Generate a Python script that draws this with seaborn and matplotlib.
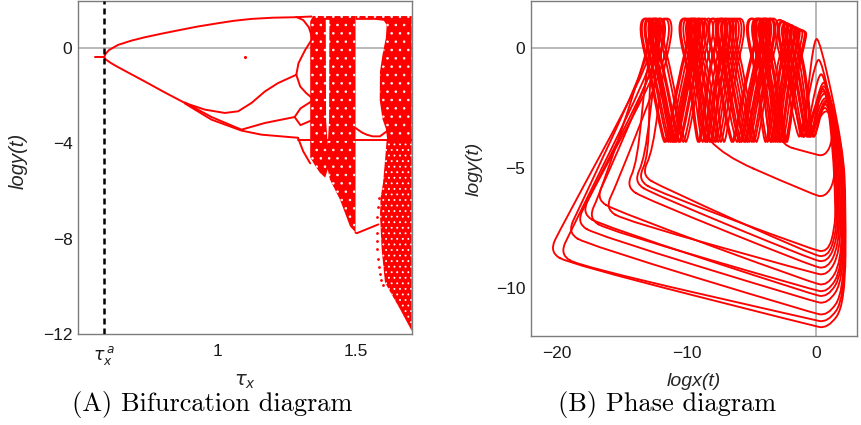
import numpy as np
import pandas as pd
import matplotlib
matplotlib.use("Agg")
import matplotlib.pyplot as plt
from matplotlib.path import Path
from matplotlib.patches import PathPatch
import seaborn as sns

sns.set_theme(style="white")
plt.rcParams["font.family"] = ["Liberation Sans", "DejaVu Sans"]
plt.rcParams["mathtext.fontset"] = "dejavusans"
plt.rcParams["hatch.linewidth"] = 0.6

RED = "#ff0000"
FRAME = "#7c7c7c"
GRID = "#a6a6a6"

# ======================= (A) bifurcation diagram data =======================
tau_a = 0.594
xA_ticks = [tau_a, 1.0, 1.5]
xA_ticklabels = [r"$\tau_x^{\,a}$", "1", "1.5"]
yA_ticks = [-12, -8, -4, 0]
yA_ticklabels = ["\u221212", "\u22128", "\u22124", "0"]

# periodic branches
stub_x = [0.562, 0.594]
stub_y = [-0.40, -0.40]
upper_x = [0.594, 0.600, 0.612, 0.644, 0.692, 0.74, 0.80, 0.86, 0.93, 1.004, 1.06, 1.124, 1.20, 1.28, 1.34]
upper_y = [-0.40, -0.25, -0.10, 0.11, 0.29, 0.43, 0.58, 0.72, 0.88, 1.02, 1.12, 1.20, 1.25, 1.27, 1.30]
upsplit_x = [1.285, 1.31, 1.33, 1.34]
upsplit_y = [1.28, 1.15, 0.85, 0.50]
trunk_x = [0.594, 0.600, 0.62, 0.644, 0.692, 0.74, 0.812, 0.884]
trunk_y = [-0.40, -0.50, -0.66, -0.82, -1.12, -1.42, -1.88, -2.32]
l1_x = [0.884, 0.956, 1.028, 1.076, 1.124, 1.172, 1.219, 1.285]
l1_y = [-2.32, -2.60, -2.74, -2.67, -2.32, -1.84, -1.49, -1.14]
l1up_x = [1.285, 1.293, 1.317, 1.34]
l1up_y = [-1.14, -0.65, -0.10, 0.32]
l1dn_x = [1.285, 1.299, 1.32, 1.34]
l1dn_y = [-1.14, -1.63, -1.90, -2.10]
l2a_x = [0.884, 0.98, 1.088, 1.16, 1.291]
l2a_y = [-2.34, -3.02, -3.48, -3.65, -3.78]
l2b_x = [0.884, 0.98, 1.088, 1.172, 1.279]
l2b_y = [-2.30, -2.91, -3.44, -3.16, -2.91]
l2bup_x = [1.279, 1.30, 1.34]
l2bup_y = [-2.91, -2.55, -2.25]
l2bdn_x = [1.279, 1.30, 1.34]
l2bdn_y = [-2.91, -3.25, -3.05]
l2adn_x = [1.291, 1.31, 1.335]
l2adn_y = [-3.78, -4.35, -4.85]
hline_x = [1.291, 1.70]
hline_y = [-3.86, -3.86]
winU_x = [1.498, 1.52, 1.538, 1.56, 1.586, 1.61]
winU_y = [-3.37, -3.55, -3.65, -3.72, -3.72, -3.51]
winL_x = [1.498, 1.502, 1.54, 1.58]
winL_y = [-7.75, -7.78, -7.60, -7.41]

# chaotic bands (outlines)
bandA_x = [1.335, 1.345, 1.498, 1.498, 1.478, 1.442, 1.406, 1.398, 1.389, 1.370, 1.350, 1.335]
bandA_y = [1.10, 1.32, 1.32, -7.75, -7.49, -6.37, -5.53, -5.10, -5.45, -5.25, -4.90, -4.60]
gapA_x = [1.391, 1.404, 1.403, 1.398, 1.392]
gapA_y = [1.16, 1.16, -3.0, -4.1, -3.0]
bandB_x = [1.498, 1.70, 1.70, 1.612, 1.607, 1.595, 1.585, 1.586, 1.595, 1.607, 1.610, 1.600, 1.570, 1.498]
bandB_y = [1.32, 1.32, -3.86, -3.86, -3.40, -3.00, -2.20, -1.00, -0.30, 0.40, 0.95, 1.12, 1.16, 1.16]
bandBl_x = [1.610, 1.70, 1.70, 1.658, 1.604, 1.592, 1.586, 1.588, 1.597, 1.605]
bandBl_y = [-3.86, -3.86, -11.87, -10.96, -9.85, -8.45, -7.06, -6.30, -5.66, -4.60]
dots_x = [1.581, 1.578, 1.576, 1.574, 1.575, 1.577, 1.580, 1.583, 1.587, 1.591, 1.596]
dots_y = [-6.30, -6.70, -7.10, -7.76, -8.10, -8.45, -8.87, -9.20, -9.50, -9.75, -9.95]
stray_x = [1.10]
stray_y = [-0.40]

# ======================= (B) phase diagram data =======================
xB_ticks = [-20, -10, 0]
xB_ticklabels = ["\u221220", "\u221210", "0"]
yB_ticks = [-10, -5, 0]
yB_ticklabels = ["\u221210", "\u22125", "0"]

cyc_corner_x = [-20.4, -19.6, -19.0, -18.3, -17.9, -17.4, -16.8, -16.1, -14.5, -13.9, -13.3, -13.6]
cyc_corner_y = [-8.4, -8.5, -7.6, -7.2, -6.8, -7.0, -6.2, -6.6, -5.7, -5.5, -5.2, -5.4]
cyc_bottom_y = [-11.6, -11.35, -11.07, -10.58, -10.3, -10.1, -9.82, -9.4, -9.12, -8.85, -8.64, -8.43]
cyc_right_x = [2.25, 2.2, 2.15, 2.1, 2.05, 2.0, 1.95, 1.85, 1.75, 1.65, 1.55, 1.45]
cyc_hump_x = [0.05, 0.6, 0.65, 0.7, 0.5, 0.2, 0.7, 0.6, 0.4, 0.7, 0.75, 0.55]
cyc_hump_y = [0.27, -1.55, -2.0, -2.45, -1.8, -0.6, -2.2, -1.7, -1.2, -2.6, -2.3, -1.9]
cyc_lobes = [
    [-12.9, -9.9, -7.6, -4.6, -2.3],
    [-12.6, -9.6, -7.2, -4.3, -2.0],
    [-13.1, -10.1, -7.9, -4.9, -2.6],
    [-12.3, -9.3, -6.9, -4.0, -1.7],
    [-12.0, -9.0, -6.5, -3.8, -1.4],
    [-13.2, -10.2, -8.0, -5.0, -2.8],
    [-12.4, -9.4, -7.0, -4.1, -1.9],
    [-11.7, -8.8, -6.3, -3.6, -1.2],
    [-12.8, -9.7, -7.4, -4.4, -2.2],
    [-12.1, -9.1, -6.7, -3.9, -1.6],
    [-11.5, -8.6, -6.1, -3.5, -1.1],
    [-12.5, -9.5, -7.3, -4.5, -2.5],
]
short_lobes = [[-8.3, -5.9, -3.3, -1.2], [-2.0]]
short_start_x = [-9.4, -3.3]
short_bottom_y = [-6.15, -4.45]
short_right_x = [1.45, 1.3]
short_hump_x = [0.85, 0.75]
short_hump_y = [-2.35, -2.75]
lobe_top_x = [-14.0, -3.0, -0.5]
lobe_top_y = [1.22, 1.22, 0.55]
trough_y = -3.92


# ----------------------------- helpers ------------------------------------
def smooth_closed(ctrl):
    P = np.asarray(ctrl, float)
    M = (P + np.roll(P, -1, axis=0)) / 2
    verts = [M[-1]]
    codes = [Path.MOVETO]
    for i in range(len(P)):
        verts += [P[i], M[i]]
        codes += [Path.CURVE3, Path.CURVE3]
    return Path(verts, codes)


def lobe_pts(c):
    top = float(np.interp(c, lobe_top_x, lobe_top_y))
    w = 0.32
    return [(c + w + 0.05, -1.1), (c - w - 0.05, 0.45), (c - w, top), (c + w, top),
            (c + w + 0.05, 0.45), (c - w - 0.05, -1.1)]


def trough_pts(t, y=trough_y):
    return [(t + 0.14, y), (t - 0.14, y)]


def top_passage(lobes, hx, hy):
    L = sorted(lobes, reverse=True)
    pts = [(hx + 0.25, hy + 0.1), (hx - 0.25, hy + 0.1)]
    pts += trough_pts((L[0] + hx) / 2, -3.7)
    for i, c in enumerate(L):
        pts += lobe_pts(c)
        if i + 1 < len(L):
            pts += trough_pts((c + L[i + 1]) / 2)
    return pts


def big_cycle(bx, by, br, rx, hx, hy, lobes):
    pts = [(bx + 1.4, by - 0.6), (-0.4, br + 0.05), (0.9, br - 0.1),
           (rx, br + 0.9), (rx + 0.05, -6.5), (rx - 0.15, -4.2)]
    pts += top_passage(lobes, hx, hy)
    pts += [(bx + 0.7, by + 0.9), (bx - 0.2, by - 0.1)]
    return pts


def short_cycle(st, sb, rx, hx, hy, lobes):
    pts = [(-0.3, sb + 0.05), (0.7, sb - 0.08), (rx, sb + 0.6), (rx - 0.05, sb + 1.8)]
    pts += top_passage(lobes, hx, hy)
    pts += [(st, trough_y - 0.03)]
    return pts


def style_axes(ax):
    for sp in ax.spines.values():
        sp.set_color(FRAME)
        sp.set_linewidth(1.0)
        sp.set_visible(True)
    ax.tick_params(axis="both", direction="in", length=3.5, width=0.8, color=FRAME,
                   labelsize=12.5, labelcolor="#1a1a1a")
    ax.tick_params(axis="x", pad=7)
    ax.tick_params(axis="y", pad=4)
    ax.grid(False)
    ax.set_facecolor("white")


# ------------------------------ figure -------------------------------------
fig = plt.figure(figsize=(8.61, 4.25), dpi=100)
axA = fig.add_axes([78 / 861, 1 - 334 / 425, 333.7 / 861, 333 / 425])
axB = fig.add_axes([530.7 / 861, 1 - 336 / 425, 326 / 861, 335 / 425])

# ---------- panel A ----------
axA.axhline(0, color=GRID, lw=1.1, zorder=1)
axA.fill(bandA_x, bandA_y, facecolor=RED, edgecolor="white", hatch="..", lw=0, zorder=2)
axA.fill(gapA_x, gapA_y, facecolor="white", edgecolor="none", lw=0, zorder=2.2)
axA.fill(bandB_x, bandB_y, facecolor=RED, edgecolor="white", hatch="..", lw=0, zorder=2)
axA.fill(bandBl_x, bandBl_y, facecolor=RED, edgecolor="white", hatch="...", lw=0, zorder=2)

branches = {
    "stub": (stub_x, stub_y), "upper": (upper_x, upper_y), "upsplit": (upsplit_x, upsplit_y),
    "trunk": (trunk_x, trunk_y), "l1": (l1_x, l1_y), "l1up": (l1up_x, l1up_y),
    "l1dn": (l1dn_x, l1dn_y), "l2a": (l2a_x, l2a_y), "l2b": (l2b_x, l2b_y),
    "l2bup": (l2bup_x, l2bup_y), "l2bdn": (l2bdn_x, l2bdn_y), "l2adn": (l2adn_x, l2adn_y),
    "hline": (hline_x, hline_y), "winU": (winU_x, winU_y), "winL": (winL_x, winL_y),
}
rows = []
for name, (bx_, by_) in branches.items():
    for i, (xx, yy) in enumerate(zip(bx_, by_)):
        rows.append({"branch": name, "order": i, "x": xx, "y": yy})
dfA = pd.DataFrame(rows)
sns.lineplot(data=dfA, x="x", y="y", units="branch", estimator=None, sort=False,
             color=RED, lw=1.4, ax=axA, legend=False, zorder=3)
sns.scatterplot(x=dots_x, y=dots_y, color=RED, s=4, linewidth=0, ax=axA, zorder=3)
sns.scatterplot(x=stray_x, y=stray_y, color=RED, s=5, linewidth=0, ax=axA, zorder=3)
axA.axvline(tau_a, color="black", lw=1.8, ls=(0, (2.4, 1.6)), zorder=5)

axA.set_xlim(0.5, 1.70)
axA.set_ylim(-12, 1.95)
style_axes(axA)
axA.set_xticks(xA_ticks)
axA.set_xticklabels(xA_ticklabels)
axA.set_yticks(yA_ticks)
axA.set_yticklabels(yA_ticklabels)
axA.set_xlabel(r"$\tau_x$", fontsize=14)
axA.xaxis.set_label_coords(0.5, -0.115)
axA.set_ylabel("logy(t)", fontsize=14.5, style="italic")
axA.yaxis.set_label_coords(-0.152, 0.52)

# ---------- panel B ----------
axB.axhline(0, color=GRID, lw=1.1, zorder=1)
axB.axvline(0, color=GRID, lw=1.1, zorder=1)
for k in range(len(cyc_lobes)):
    ctrl = big_cycle(cyc_corner_x[k], cyc_corner_y[k], cyc_bottom_y[k], cyc_right_x[k],
                     cyc_hump_x[k], cyc_hump_y[k], cyc_lobes[k])
    axB.add_patch(PathPatch(smooth_closed(ctrl), fill=False, edgecolor=RED, lw=1.35,
                            joinstyle="round", capstyle="round", zorder=3))
for k in range(len(short_lobes)):
    ctrl = short_cycle(short_start_x[k], short_bottom_y[k], short_right_x[k],
                       short_hump_x[k], short_hump_y[k], short_lobes[k])
    axB.add_patch(PathPatch(smooth_closed(ctrl), fill=False, edgecolor=RED, lw=1.35,
                            joinstyle="round", capstyle="round", zorder=3))

axB.set_xlim(-22.03, 3.14)
axB.set_ylim(-12.0, 1.95)
style_axes(axB)
axB.set_xticks(xB_ticks)
axB.set_xticklabels(xB_ticklabels)
axB.set_yticks(yB_ticks)
axB.set_yticklabels(yB_ticklabels)
axB.set_xlabel("logx(t)", fontsize=14, style="italic")
axB.xaxis.set_label_coords(0.5, -0.11)
axB.set_ylabel("logy(t)", fontsize=14, style="italic")
axB.yaxis.set_label_coords(-0.146, 0.50)

# ---------- captions ----------
fig.text(211.7 / 861, 1 - 411.5 / 425, "(A) Bifurcation diagram", ha="center",
         va="baseline", family="cmr10", fontsize=19, color="black")
fig.text(666.7 / 861, 1 - 411.5 / 425, "(B) Phase diagram", ha="center",
         va="baseline", family="cmr10", fontsize=19, color="black")

fig.savefig("out.png", dpi=100)
